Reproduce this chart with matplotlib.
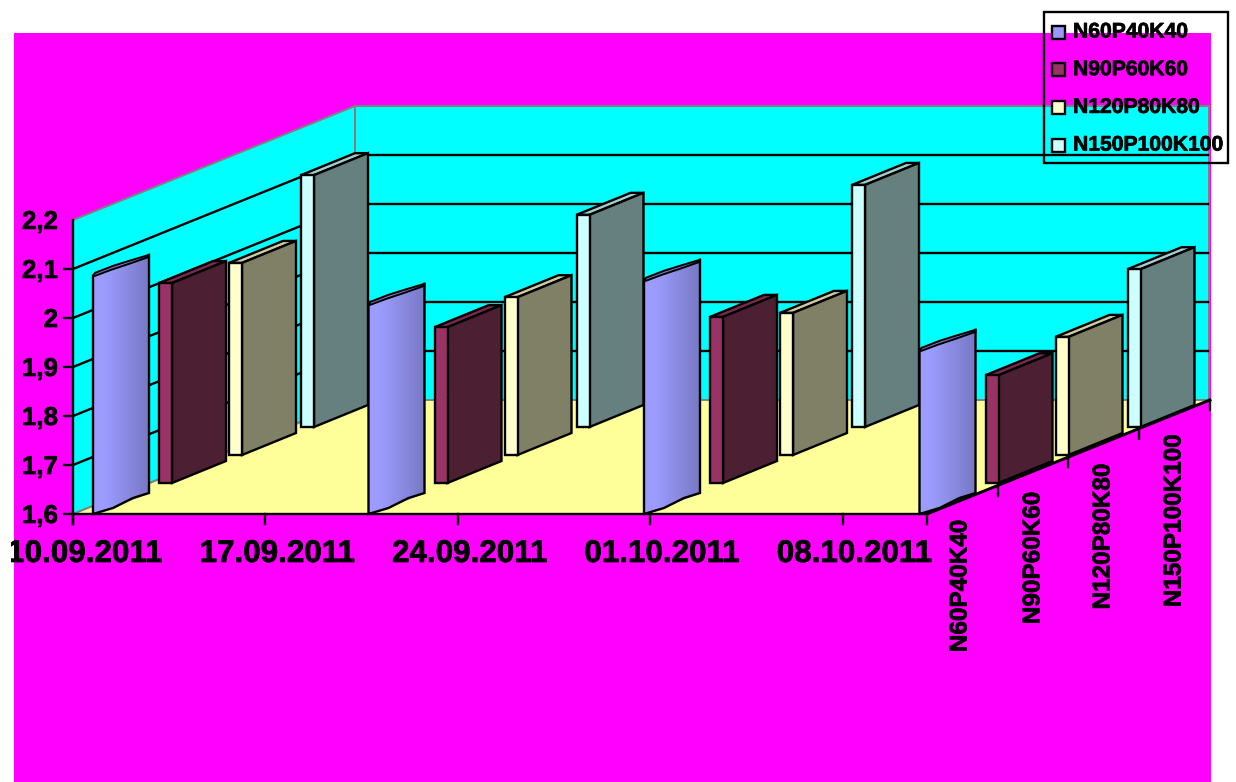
import numpy as np
import matplotlib
matplotlib.use('Agg')
import matplotlib.pyplot as plt
import matplotlib.patheffects as pe
from matplotlib.patches import Polygon, Rectangle

plt.rcParams['font.family'] = ['Liberation Sans', 'DejaVu Sans']

dates = ['10.09.2011', '17.09.2011', '24.09.2011', '01.10.2011', '08.10.2011']
series = ['N60P40K40', 'N90P60K60', 'N120P80K80', 'N150P100K100']
y_ticks = [1.6, 1.7, 1.8, 1.9, 2.0, 2.1, 2.2]
y_labels = ['1,6', '1,7', '1,8', '1,9', '2', '2,1', '2,2']

n60 = [2.086, 2.027, 2.076, 1.933]
n90 = [2.008, 1.918, 1.939, 1.820]
n120 = [1.992, 1.922, 1.890, 1.841]
n150 = [2.114, 2.033, 2.094, 1.922]
values = [n60, n90, n120, n150]

# colours: front, side, top
face_cols = ['#9999FF', '#993366', '#FFFFCC', '#CCFFFF']
side_cols = ['#7777CC', '#4D1F33', '#808066', '#668080']
top_cols = ['#7A7ACC', '#7A2952', '#CCCCA3', '#A3CCCC']

# layout, in pixels of the 1236x782 picture
LW = 1.7
px_per_unit = 490.
left, right, floor_y = 73, 927, 514
depth_dx, depth_dy = 283, 114
row_x = [93, 159, 229, 301]
row_y = [514, 483, 455, 427]
cat_step = 275.5
front_w = 13
side_dx, side_dy = 54, 22
heavy = [pe.withStroke(linewidth=0.5, foreground='k')]


def wall_y(v):
    return floor_y - (v - 1.6) * px_per_unit


def bar_height(v):
    return (v - 1.6) * px_per_unit


def poly(ax, pts, fc, ec='k', lw=LW, z=2):
    ax.add_patch(Polygon(pts, closed=True, facecolor=fc, edgecolor=ec, linewidth=lw,
                         zorder=z, joinstyle='miter'))


def box_bar(ax, x, y0, v, row):
    h = bar_height(v)
    poly(ax, [(x + front_w, y0 - h), (x + front_w + side_dx, y0 - h - side_dy),
              (x + side_dx, y0 - h - side_dy), (x, y0 - h)], top_cols[row])
    poly(ax, [(x + front_w, y0), (x + front_w + side_dx, y0 - side_dy),
              (x + front_w + side_dx, y0 - h - side_dy), (x + front_w, y0 - h)], side_cols[row])
    poly(ax, [(x, y0), (x + front_w, y0), (x + front_w, y0 - h), (x, y0 - h)], face_cols[row])


def round_bar(ax, x, y0, v):
    # the first series is a rounded slab, shaded across its width
    h = bar_height(v)
    w, rise = 56, 21
    ts = np.linspace(0, 1, 29)
    start = np.array(matplotlib.colors.to_rgb('#9C9CFF'))
    end = np.array(matplotlib.colors.to_rgb('#7878C4'))
    for t0, t1 in zip(ts[:-1], ts[1:]):
        col = start + (end - start) * max(0, (t0 - 0.2) / 0.8)
        poly(ax, [(x + w * t0, y0 - rise * t0), (x + w * t1, y0 - rise * t1),
                  (x + w * t1, y0 - h - rise * t1), (x + w * t0, y0 - h - rise * t0)],
             col, ec=col, lw=0.8)
    top = [(x, y0 - h), (x + 2, y0 - h - 3), (x + 20, y0 - h - 10), (x + 36, y0 - h - 15),
           (x + w, y0 - h - rise), (x + w, y0 - h - rise + 2), (x + 36, y0 - h - 12),
           (x + 18, y0 - h - 6), (x + 2, y0 - h)]
    poly(ax, top, '#7A7ACC', lw=LW - 0.3)
    outline = [(x, y0 - h), (x, y0), (x + 20, y0 - 6), (x + 40, y0 - 16), (x + w, y0 - rise),
               (x + w, y0 - h - rise)]
    ax.plot(*zip(*outline), color='k', lw=LW, zorder=2, solid_joinstyle='miter')


fig = plt.figure(figsize=(12.36, 7.82), dpi=100, facecolor='white')
ax = fig.add_axes([0, 0, 1, 1])
ax.set_xlim(0, 1236)
ax.set_ylim(782, 0)
ax.axis('off')

ax.add_patch(Rectangle((14, 33), 1197, 749, facecolor='#FF00FF', edgecolor='none', zorder=0))

top_y = wall_y(2.2)
back_floor = floor_y - depth_dy
back_left = left + depth_dx - 1
back_top = top_y - depth_dy
# walls and floor
poly(ax, [(left, floor_y), (left, top_y), (back_left, back_top), (back_left, back_floor)],
     '#00FFFF', ec='#808080', lw=1.4, z=1)
poly(ax, [(back_left, back_floor), (back_left, back_top), (1209, back_top), (1209, back_floor)],
     '#00FFFF', ec='#808080', lw=1.4, z=1)
poly(ax, [(left, floor_y), (right, floor_y), (1209, back_floor), (back_left, back_floor)],
     '#FFFF99', ec='#808080', lw=1.4, z=1)

for v in y_ticks[1:-1]:
    y = wall_y(v)
    ax.plot([left, back_left], [y, y - depth_dy], color='k', lw=LW, zorder=1.5)
    ax.plot([back_left, 1208], [y - depth_dy, y - depth_dy], color='k', lw=LW, zorder=1.5)

# back rows first so the nearer rows cover them
for row in [3, 2, 1, 0]:
    for j, v in enumerate(values[row]):
        x = row_x[row] + j * cat_step
        if row == 0:
            round_bar(ax, x, row_y[row], v)
        else:
            box_bar(ax, x, row_y[row], v, row)

# axes
ax.plot([left, left], [top_y, floor_y + 10], color='k', lw=LW, zorder=3)
ax.plot([left, right], [floor_y, floor_y], color='k', lw=LW, zorder=3)
ax.plot([right, 1210], [floor_y, back_floor], color='k', lw=LW + 0.4, zorder=3)
for v, lab in zip(y_ticks, y_labels):
    y = wall_y(v)
    if v < 2.2:
        ax.plot([64, left], [y, y], color='k', lw=LW, zorder=3)
    ax.text(58, y + 2, lab, ha='right', va='center', fontsize=18.6, fontweight='bold',
            zorder=4, path_effects=heavy)

date_clip = Rectangle((11, 520), 1200, 60, transform=ax.transData)
for i, lab in enumerate(dates):
    tx = left + 192.4 * i
    ax.plot([tx, tx], [floor_y, floor_y + 10], color='k', lw=LW, zorder=3)
    t = ax.text(tx + 12, 554, lab, ha='center', va='center', fontsize=22.6, fontweight='bold',
                zorder=4, path_effects=heavy)
    t.set_clip_path(date_clip)
    t.set_clip_on(True)

depth_x = [960, 1033, 1103, 1174]
depth_top = [520, 492, 464, 435]
for k in range(5):
    tx = right + k * 70.7
    ty = floor_y - k * 28.5
    ax.plot([tx, tx], [ty, ty + 10], color='k', lw=LW, zorder=3)
for lab, tx, ty in zip(series, depth_x, depth_top):
    ax.text(tx, ty, lab, rotation=90, ha='center', va='top', fontsize=17.5, fontweight='bold',
            zorder=4, path_effects=heavy)

# legend, see-through as in the original
ax.add_patch(Rectangle((1044, 12), 184, 151, facecolor='none', edgecolor='k', linewidth=LW, zorder=5))
for i, lab in enumerate(series):
    y = 32 + i * 37.7
    ax.add_patch(Rectangle((1052, y - 6.5), 13, 13, facecolor=face_cols[i], edgecolor='k', linewidth=LW, zorder=5))
    ax.text(1073, y, lab, ha='left', va='center', fontsize=15.2, fontweight='bold',
            zorder=5, path_effects=heavy)

fig.savefig('out.png', dpi=100)
